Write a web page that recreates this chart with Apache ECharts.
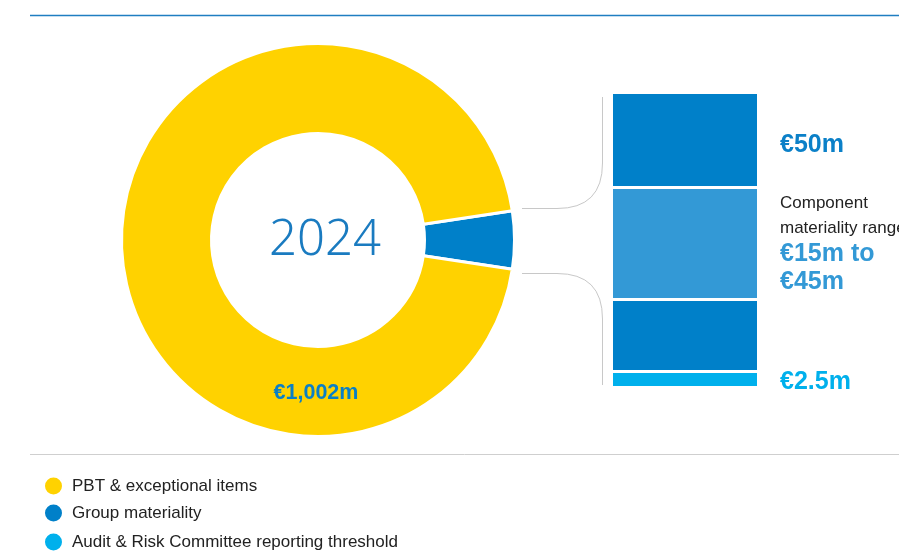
<!DOCTYPE html>
<html>
<head>
<meta charset="utf-8">
<title>Materiality 2024</title>
<script src="https://cdn.jsdelivr.net/npm/echarts@6/dist/echarts.min.js"></script>
<style>
  html, body { margin: 0; padding: 0; background: #fff; }
  #chart { width: 899px; height: 551px; }
</style>
</head>
<body>
<div id="chart"></div>
<script>
// Donut: profit before tax & exceptional items vs. group materiality (€m)
const year = '2024';
const pieNames = ['Group materiality', 'PBT & exceptional items'];
const pieValues = [50, 1002];

// Materiality ladder (schematic band spans, bottom to top)
const bandNames = [
  'Audit & Risk Committee reporting threshold',
  'Group materiality (lower)',
  'Component materiality range',
  'Group materiality (upper)'
];
const bandSpans = [16, 72, 112, 95];
const bandLabels = ['€2.5m', '', 'Component\nmateriality range|€15m to\n€45m', '€50m'];

const legendNames = ['PBT & exceptional items', 'Group materiality', 'Audit & Risk Committee reporting threshold'];

const YELLOW = '#ffd200';
const BLUE = '#0080c9';
const MID_BLUE = '#3399d6';
const CYAN = '#00b0ec';
const bandColors = [CYAN, BLUE, MID_BLUE, BLUE];

const FONT = '"Liberation Sans", Arial, sans-serif';

const chart = echarts.init(document.getElementById('chart'), null, { renderer: 'canvas' });

const total = pieValues.reduce((a, b) => a + b, 0);
const startAngle = 360 * pieValues[0] / total / 2;
const fmt = v => '€' + v.toLocaleString('en-GB') + 'm';

function bandLabel(i) {
  const txt = bandLabels[i];
  if (!txt) return { show: false };
  if (txt.indexOf('|') >= 0) {
    const parts = txt.split('|');
    return {
      show: true,
      position: 'right',
      distance: 21.5,
      formatter: '{t|' + parts[0].split('\n').join('}\n{t|') + '}\n{v|' + parts[1].split('\n').join('}\n{v|') + '}',
      rich: {
        t: { fontFamily: FONT, fontSize: 17, color: '#222', lineHeight: 25 },
        v: { fontFamily: FONT, fontSize: 25, fontWeight: 'bold', color: MID_BLUE, lineHeight: 28 }
      }
    };
  }
  const isThreshold = bandColors[i] === CYAN;
  return {
    show: true,
    position: 'right',
    distance: 21.5,
    offset: isThreshold ? [0, 2.5] : [0, 5],
    formatter: txt,
    fontFamily: FONT,
    fontSize: 25,
    fontWeight: 'bold',
    color: isThreshold ? CYAN : '#0b80c8'
  };
}

const barSeries = bandSpans.map((v, i) => ({
  name: bandNames[i],
  type: 'bar',
  stack: 'ladder',
  barWidth: 147,
  silent: true,
  itemStyle: { color: bandColors[i], borderColor: '#fff', borderWidth: 1.5 },
  label: bandLabel(i),
  data: [v]
}));

// Brace-shaped connectors between the donut's blue wedge and the ladder
const connectorStyle = { stroke: '#c8c8c8', lineWidth: 1, fill: null };
const connectors = [
  { type: 'line', shape: { x1: 522, y1: 208.5, x2: 557, y2: 208.5 } },
  { type: 'bezierCurve', shape: { x1: 557, y1: 208.5, cpx1: 602.5, cpy1: 208.5, x2: 602.5, y2: 163 } },
  { type: 'line', shape: { x1: 602.5, y1: 163, x2: 602.5, y2: 97 } },
  { type: 'line', shape: { x1: 522, y1: 273.5, x2: 557, y2: 273.5 } },
  { type: 'bezierCurve', shape: { x1: 557, y1: 273.5, cpx1: 602.5, cpy1: 273.5, x2: 602.5, y2: 319 } },
  { type: 'line', shape: { x1: 602.5, y1: 319, x2: 602.5, y2: 385 } }
].map(el => Object.assign(el, { style: connectorStyle, silent: true }));

// One legend row per entry, stacked down the footer
const legendRowTops = [475.5, 502.5, 531.5];
const legends = legendNames.map((name, i) => ({
  data: [name],
  orient: 'vertical',
  left: 43,
  top: legendRowTops[i],
  padding: 0,
  icon: 'circle',
  itemWidth: 19,
  itemHeight: 19,
  selectedMode: false,
  textStyle: { fontFamily: FONT, fontSize: 17, color: '#222', padding: [0, 0, 0, 4] }
}));

const option = {
  animation: false,
  backgroundColor: '#fff',
  grid: { left: 611.5, top: 92.5, width: 147, height: 295 },
  xAxis: { type: 'category', data: ['ladder'], show: false },
  yAxis: { type: 'value', min: 0, max: bandSpans.reduce((a, b) => a + b, 0), show: false },
  legend: legends,
  graphic: [
    { type: 'line', z: 10, shape: { x1: 30, y1: 15.5, x2: 899, y2: 15.5 }, style: { stroke: '#1f7ec1', lineWidth: 1.5 }, silent: true },
    { type: 'line', z: 10, shape: { x1: 30, y1: 454.5, x2: 899, y2: 454.5 }, style: { stroke: '#cfcfcf', lineWidth: 1 }, silent: true },
    ...connectors,
    {
      type: 'text', z: 10, silent: true,
      style: { x: 325, y: 241, text: year, fill: '#1a7bc0', font: '300 49px "Noto Sans", "Open Sans", sans-serif', textAlign: 'center', textVerticalAlign: 'middle', verticalAlign: 'middle' }
    },
    {
      type: 'text', z: 10, silent: true,
      style: { x: 316, y: 393.5, text: fmt(pieValues[1]), fill: '#0a7fc6', font: 'bold 21.5px ' + FONT, textAlign: 'center', textVerticalAlign: 'middle', verticalAlign: 'middle' }
    }
  ],
  series: [
    {
      type: 'pie',
      center: [318, 240],
      radius: [106.5, 196.5],
      startAngle: startAngle,
      clockwise: true,
      silent: true,
      label: { show: false },
      labelLine: { show: false },
      itemStyle: { borderColor: '#fff', borderWidth: 3 },
      data: pieNames.map((n, i) => ({
        name: n,
        value: pieValues[i],
        itemStyle: { color: i === 0 ? BLUE : YELLOW }
      }))
    },
    ...barSeries
  ]
};

chart.setOption(option);
</script>
</body>
</html>
